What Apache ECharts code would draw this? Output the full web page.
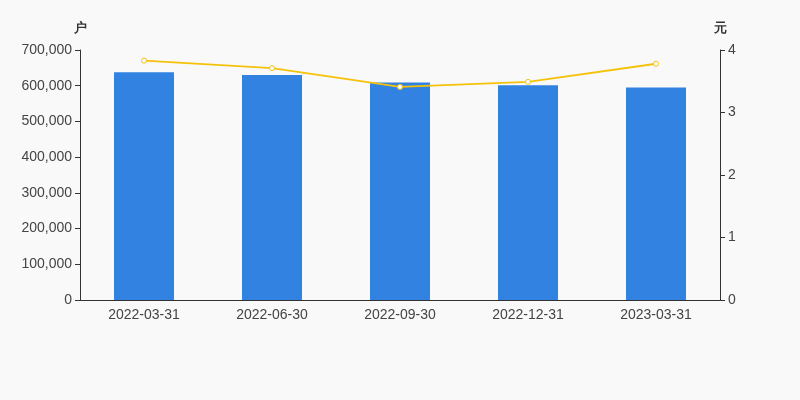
<!DOCTYPE html>
<html><head><meta charset="utf-8">
<script src="https://cdn.jsdelivr.net/npm/echarts@6/dist/echarts.min.js"></script>
<style>html,body{margin:0;padding:0;background:#f9f9f9}#c{width:800px;height:400px}</style>
</head><body><div id="c"></div>
<script>
var categories = ['2022-03-31','2022-06-30','2022-09-30','2022-12-31','2023-03-31'];
var holders = [638000, 630000, 609000, 601000, 595000];
var avgValue = [3.83, 3.71, 3.41, 3.49, 3.78];
var chart = echarts.init(document.getElementById('c'));
var axisText = {color:'#444', fontSize:14, fontFamily:'Arial, Liberation Sans, sans-serif'};
chart.setOption({
  backgroundColor:'#f9f9f9',
  animation:false,
  grid:{left:80, right:80, top:50, bottom:100},
  xAxis:{type:'category', data:categories,
    axisLine:{lineStyle:{color:'#333'}}, axisTick:{lineStyle:{color:'#333'}},
    axisLabel:axisText},
  yAxis:[
    {type:'value', min:0, max:700000, interval:100000, name:'户', nameGap:15,
     nameTextStyle:{color:'#333', fontSize:13, fontWeight:'bold'},
     axisLine:{show:true, lineStyle:{color:'#333'}}, axisTick:{show:true, lineStyle:{color:'#333'}},
     splitLine:{show:false},
     axisLabel:Object.assign({formatter:function(v){return v.toLocaleString('en-US');}}, axisText)},
    {type:'value', min:0, max:4, interval:1, name:'元', nameGap:15,
     nameTextStyle:{color:'#333', fontSize:13, fontWeight:'bold'},
     axisLine:{show:true, lineStyle:{color:'#333'}}, axisTick:{show:true, lineStyle:{color:'#333'}},
     splitLine:{show:false}, axisLabel:axisText}
  ],
  series:[
    {type:'bar', data:holders, barWidth:60, itemStyle:{color:'#3282e2'}},
    {type:'line', yAxisIndex:1, data:avgValue, symbol:'circle', symbolSize:5,
     itemStyle:{color:'#fff', borderColor:'#f5c20a', borderWidth:1},
     lineStyle:{color:'#f5c20a', width:2}}
  ]
});
</script></body></html>
